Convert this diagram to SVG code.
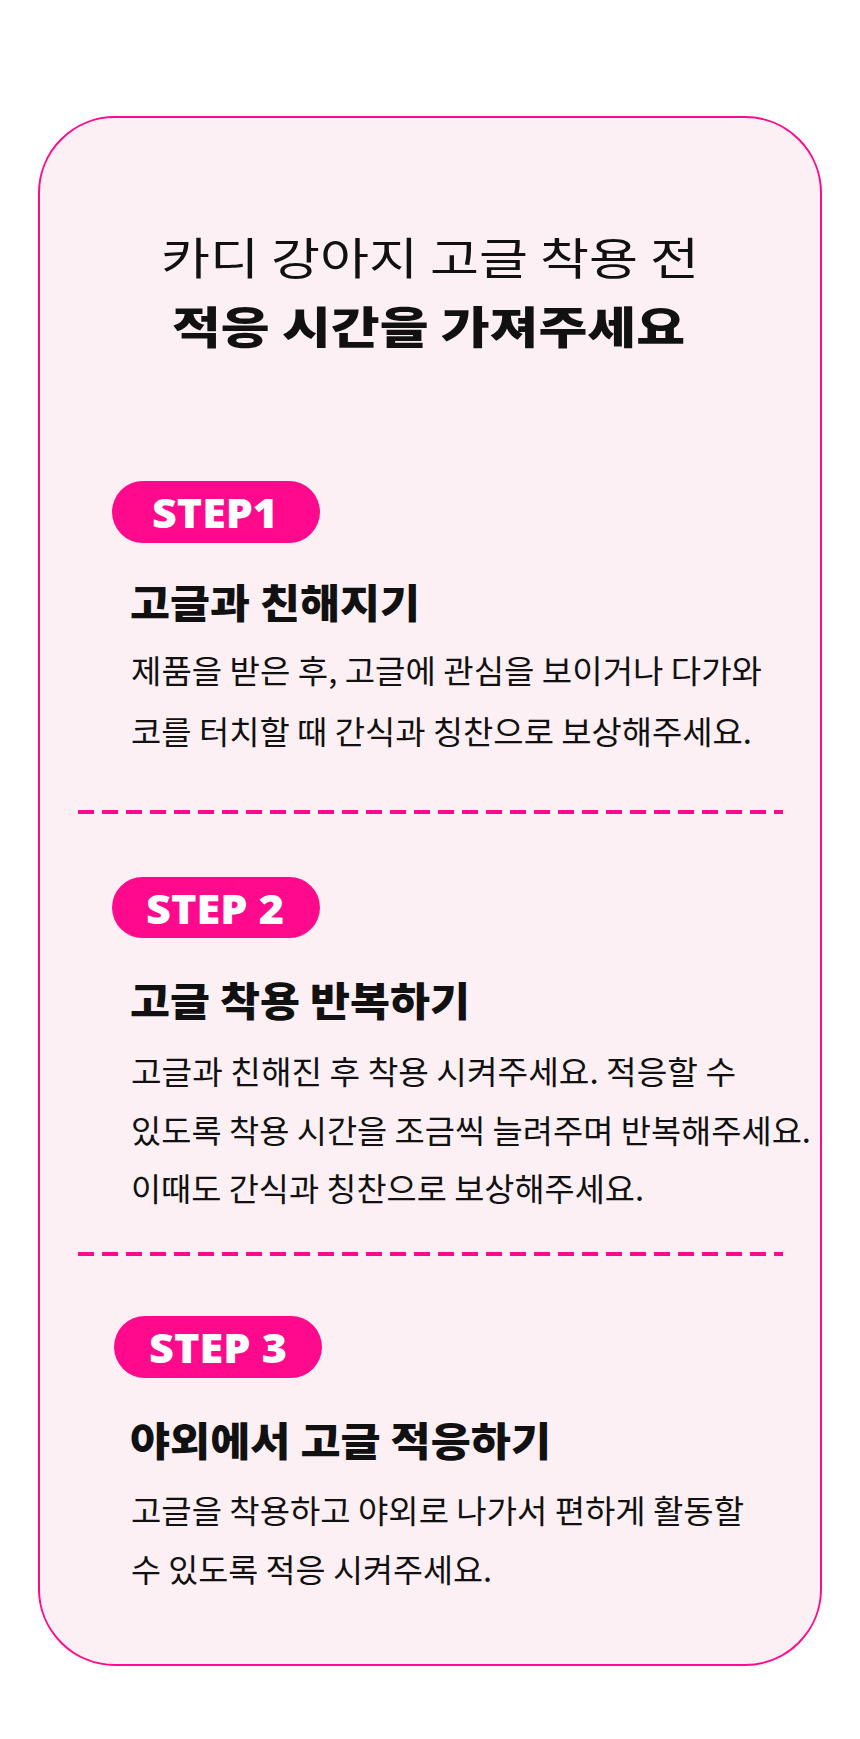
<svg xmlns="http://www.w3.org/2000/svg" width="860" height="1739" viewBox="0 0 860 1739">
<style>
text{font-family:"Noto Sans CJK KR","Noto Sans",sans-serif;fill:#111}
.t1{font-size:44px;font-weight:400}
.t2{font-size:44px;font-weight:900}
.pill{fill:#FF0A8C}
.pt{fill:#fff;font-size:40px;font-weight:900;font-family:"Noto Sans",sans-serif}
.h{font-size:40px;font-weight:900}
.b{font-size:32px;font-weight:400}
.dash{stroke:#FF0A8C;stroke-width:4;stroke-dasharray:16 8}
</style>
<rect width="860" height="1739" fill="#fff"/>
<g id="card"><rect x="39" y="117" width="782" height="1548" rx="76" fill="#FDF0F5" stroke="#FF0A8C" stroke-width="2"/></g>
<g id="title">
<text class="t1" x="161" y="275" textLength="538" lengthAdjust="spacingAndGlyphs">카디 강아지 고글 착용 전</text>
<text class="t2" x="172" y="344" textLength="513" lengthAdjust="spacingAndGlyphs">적응 시간을 가져주세요</text>
</g>
<g id="connectors">
<line class="dash" x1="78" y1="812" x2="783" y2="812"/>
<line class="dash" x1="78" y1="1254" x2="783" y2="1254"/>
</g>
<g id="step1">
<rect class="pill" x="112" y="481" width="208" height="62" rx="31"/>
<text class="pt" x="152" y="528" textLength="126" lengthAdjust="spacingAndGlyphs">STEP1</text>
<text class="h" x="130" y="618" textLength="290" lengthAdjust="spacingAndGlyphs">고글과 친해지기</text>
<text class="b" x="131" y="683" textLength="631" lengthAdjust="spacingAndGlyphs">제품을 받은 후, 고글에 관심을 보이거나 다가와</text>
<text class="b" x="131" y="744" textLength="621" lengthAdjust="spacingAndGlyphs">코를 터치할 때 간식과 칭찬으로 보상해주세요.</text>
</g>
<g id="step2">
<rect class="pill" x="112" y="877" width="208" height="61" rx="30.5"/>
<text class="pt" x="146" y="924" textLength="138" lengthAdjust="spacingAndGlyphs">STEP 2</text>
<text class="h" x="130" y="1016" textLength="340" lengthAdjust="spacingAndGlyphs">고글 착용 반복하기</text>
<text class="b" x="131" y="1084" textLength="605" lengthAdjust="spacingAndGlyphs">고글과 친해진 후 착용 시켜주세요.  적응할 수</text>
<text class="b" x="131" y="1143" textLength="680" lengthAdjust="spacingAndGlyphs">있도록 착용 시간을 조금씩 늘려주며 반복해주세요.</text>
<text class="b" x="131" y="1201" textLength="513" lengthAdjust="spacingAndGlyphs">이때도 간식과 칭찬으로 보상해주세요.</text>
</g>
<g id="step3">
<rect class="pill" x="114" y="1316" width="208" height="62" rx="31"/>
<text class="pt" x="149" y="1363" textLength="138" lengthAdjust="spacingAndGlyphs">STEP 3</text>
<text class="h" x="130" y="1456" textLength="421" lengthAdjust="spacingAndGlyphs">야외에서 고글 적응하기</text>
<text class="b" x="131" y="1523" textLength="613" lengthAdjust="spacingAndGlyphs">고글을 착용하고 야외로 나가서 편하게 활동할</text>
<text class="b" x="131" y="1582" textLength="361" lengthAdjust="spacingAndGlyphs">수 있도록 적응 시켜주세요.</text>
</g>
</svg>
